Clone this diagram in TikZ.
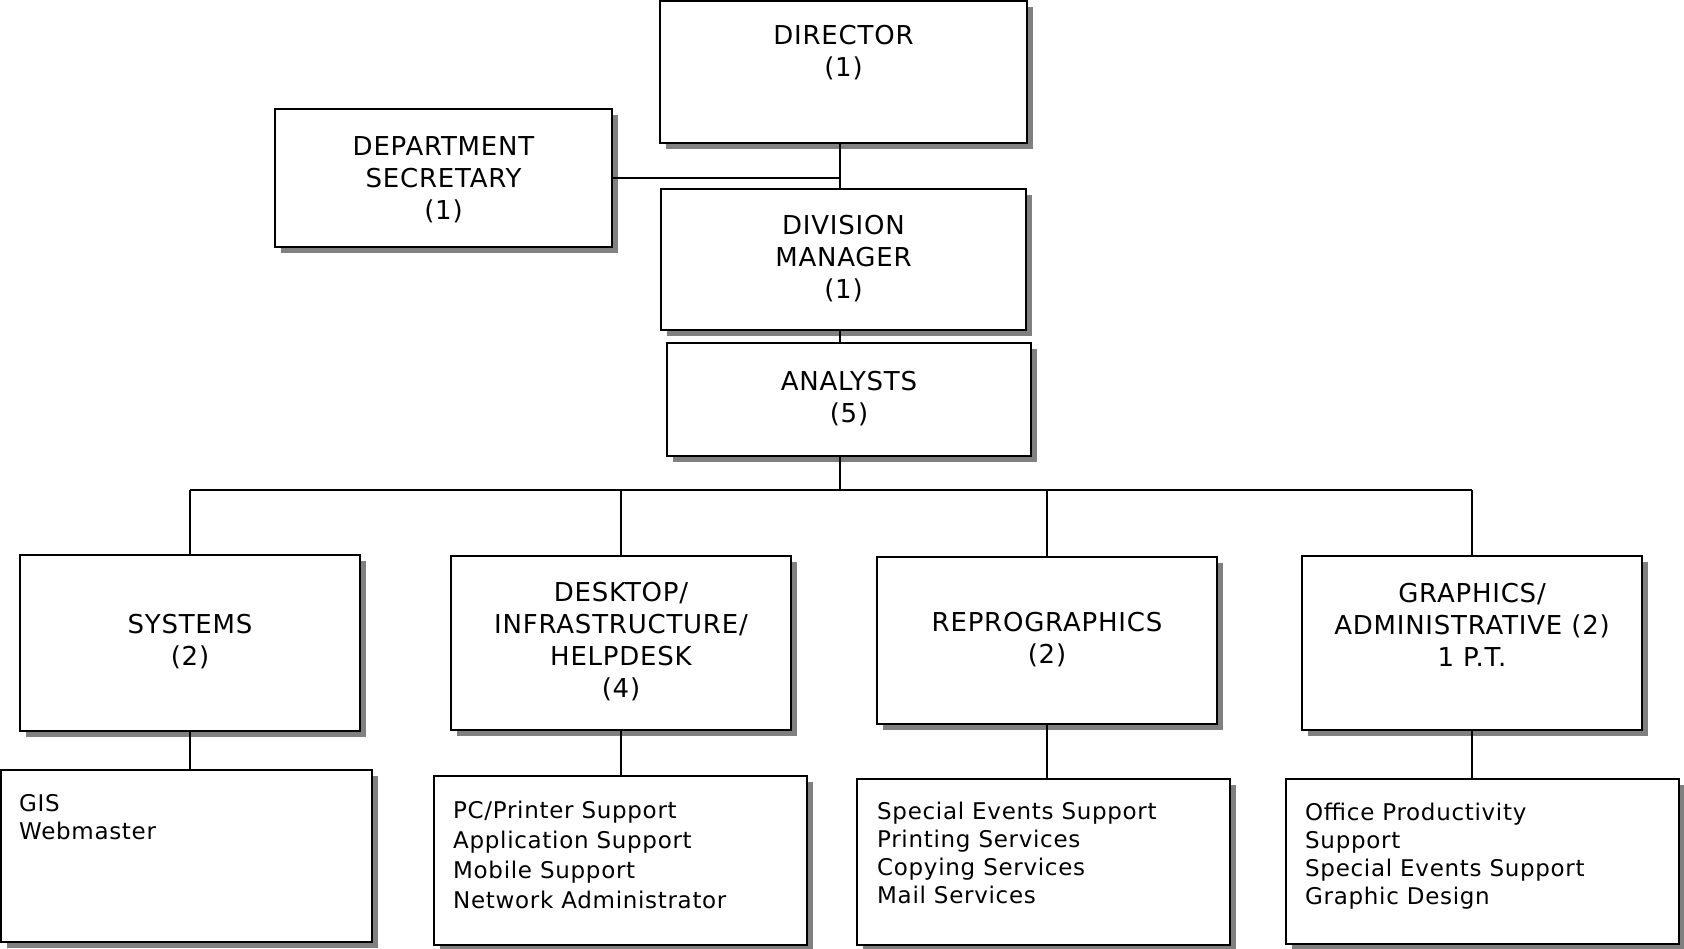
\documentclass[tikz,border=0pt]{standalone}
\usepackage{fontspec}
\setmainfont{DejaVu Sans}[LetterSpace=3]
\usetikzlibrary{positioning,shadows}

\begin{document}
\begin{tikzpicture}[x=1pt,y=-1pt,
	box/.style={draw, line width=2pt, fill=white, inner sep=0pt,
		general shadow={fill=black!50, shadow xshift=6pt, shadow yshift=-6pt}},
	head/.style={font=\fontsize{26}{32}\selectfont, align=center, inner sep=0pt},
	duty/.style={font=\fontsize{23}{28}\selectfont, align=left, inner sep=0pt},
	link/.style={line width=1.5pt}]
	\useasboundingbox (0,0) rectangle (1684,949);
	
	% draw top boxes
	\node[box, minimum width=367pt, minimum height=142pt] (dir) at (843.5,72) {};
	\node[box, minimum width=337pt, minimum height=138pt] (sec) at (443.5,178) {};
	\node[box, minimum width=365pt, minimum height=141pt] (div) at (843.5,259.5) {};
	\node[box, minimum width=364pt, minimum height=113pt] (ana) at (849,399.5) {};
	
	% draw unit boxes
	\node[box, minimum width=340pt, minimum height=176pt] (sys) at (190,643) {};
	\node[box, minimum width=340pt, minimum height=174pt] (dsk) at (621,643) {};
	\node[box, minimum width=340pt, minimum height=167pt] (rep) at (1047,640.5) {};
	\node[box, minimum width=340pt, minimum height=174pt] (gra) at (1472,643) {};
	
	% draw duty boxes
	\node[box, minimum width=371pt, minimum height=172pt] (sys-list) at (186.5,856) {};
	\node[box, minimum width=373pt, minimum height=169pt] (dsk-list) at (620.5,860.5) {};
	\node[box, minimum width=373pt, minimum height=166pt] (rep-list) at (1043.5,862) {};
	\node[box, minimum width=393pt, minimum height=165pt] (gra-list) at (1482.5,861.5) {};
	
	% titles
	\node[head, below=25pt of dir.north] (dir-txt) {DIRECTOR\\(1)};
	\node[head, below=28pt of sec.north] (sec-txt) {DEPARTMENT\\SECRETARY\\(1)};
	\node[head, below=27pt of div.north] (div-txt) {DIVISION\\MANAGER\\(1)};
	\node[head, below=29pt of ana.north] (ana-txt) {ANALYSTS\\(5)};
	\node[head, below=60pt of sys.north] (sys-txt) {SYSTEMS\\(2)};
	\node[head, below=27pt of dsk.north] (dsk-txt) {DESKTOP/\\INFRASTRUCTURE/\\HELPDESK\\(4)};
	\node[head, below=56pt of rep.north] (rep-txt) {REPROGRAPHICS\\(2)};
	\node[head, below=28pt of gra.north] (gra-txt) {GRAPHICS/\\ADMINISTRATIVE (2)\\1 P.T.};
	
	% duties
	\node[duty, below right=25pt and 19pt of sys-list.north west] (sys-txt2) {GIS\\Webmaster};
	\node[duty, font=\fontsize{23}{30}\selectfont, below right=26pt and 20pt of dsk-list.north west] (dsk-txt2)
		{PC/Printer Support\\Application Support\\Mobile Support\\Network Administrator};
	\node[duty, below right=24pt and 21pt of rep-list.north west] (rep-txt2)
		{Special Events Support\\Printing Services\\Copying Services\\Mail Services};
	\node[duty, below right=25pt and 20pt of gra-list.north west] (gra-txt2)
		{Office Productivity\\Support\\Special Events Support\\Graphic Design};
	
	% draw connectors
	\coordinate (spine) at (840,0);
	\coordinate (bus) at (840,490);
	\draw[link] (dir.south -| spine) -- (div.north -| spine);
	\draw[link] (sec.east) -- (sec.east -| spine);
	\draw[link] (div.south -| spine) -- (ana.north -| spine);
	\draw[link] (ana.south -| spine) -- (bus);
	\draw[link] (sys.north |- bus) -- (gra.north |- bus);
	\foreach \n in {sys,dsk,rep,gra}{
		\draw[link] (\n.north |- bus) -- (\n.north);
		\draw[link] (\n.south) -- (\n.south |- \n-list.north);
	}
\end{tikzpicture}
\end{document}
